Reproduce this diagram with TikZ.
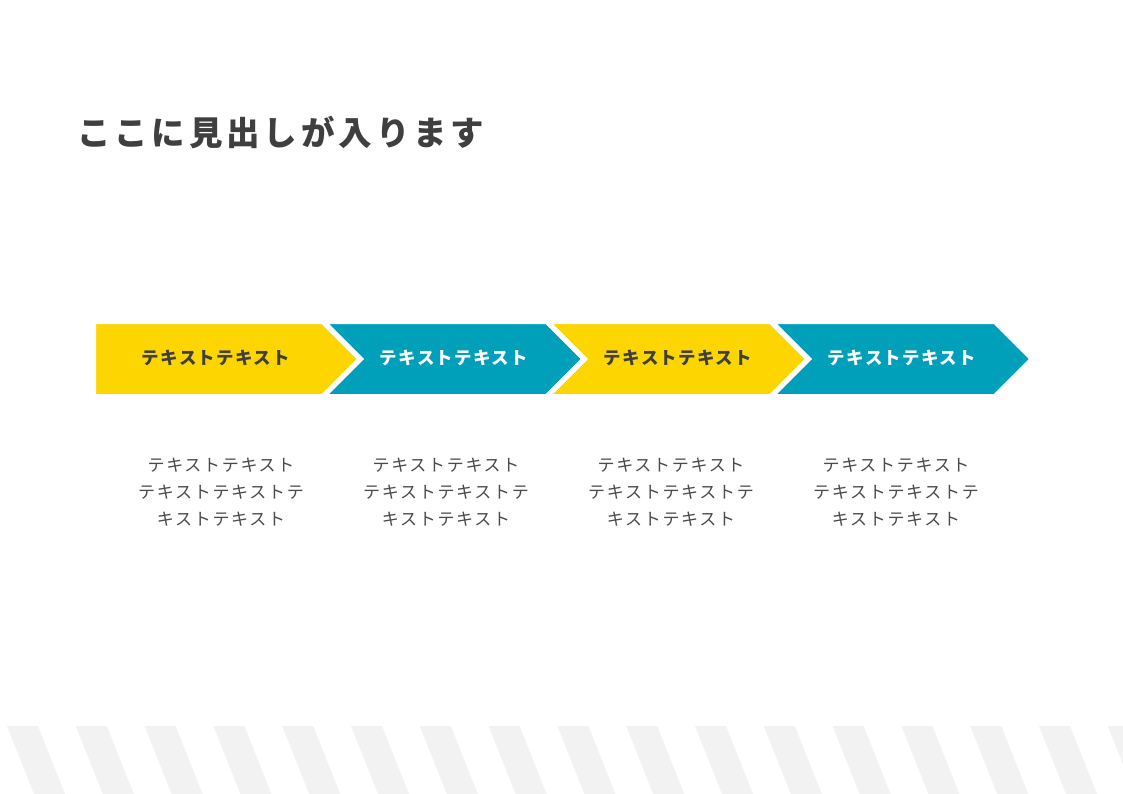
\documentclass[tikz,border=0pt]{standalone}
\usepackage{fontspec}
\usepackage{tikz}
\usetikzlibrary{ % tikz packages
    positioning
}
\newfontfamily\jpfont{Noto Sans CJK JP}
\definecolor{chevyellow}{HTML}{FDD500}
\definecolor{chevblue}{HTML}{00A0BA}
\definecolor{stripegray}{HTML}{F2F2F2}
\definecolor{titlegray}{HTML}{3F3F3F}
\definecolor{descgray}{HTML}{4A4A4A}
\tikzset{chevron/.style={
    draw=white,
    line width=5pt,
    line join=miter
}}
\tikzset{chevlabel/.style={
    inner sep=0pt,
    font=\jpfont\bfseries\fontsize{17.5}{20}\selectfont\addfontfeatures{LetterSpace=7.5}
}}
\tikzset{desc/.style={
    inner sep=0pt,
    align=center,
    text=descgray,
    font=\jpfont\fontsize{17}{27}\selectfont\addfontfeatures{LetterSpace=10}
}}

\begin{document}
\begin{tikzpicture}[x=1pt,y=-1pt]
            \useasboundingbox[fill=white] (0,0) rectangle (1123,794);
            % stripes at the bottom
            \foreach \i in {0,...,16}
                \fill[stripegray] (7+68.8*\i,726) -- ++(31,0) -- ++(27,68) -- ++(-31,0) -- cycle;

            \node[anchor=west, inner sep=0pt, text=titlegray,
                font=\jpfont\bfseries\fontsize{33.5}{40}\selectfont\addfontfeatures{LetterSpace=11.5}]
                (title) at (77,133) {ここに見出しが入ります};

            % chevrons
            \path[chevron, fill=chevyellow] (93.5,321.5) -- (323,321.5) -- (360.5,359)
                -- (323,396.5) -- (93.5,396.5) -- cycle;
            \foreach \k/\col in {1/chevblue,2/chevyellow,3/chevblue}
                \path[chevron, fill=\col] (323+224*\k-224,321.5) -- (323+224*\k,321.5)
                    -- (360.5+224*\k,359) -- (323+224*\k,396.5)
                    -- (323+224*\k-224,396.5) -- (360.5+224*\k-224,359) -- cycle;

            \node[chevlabel, text=titlegray] (lab1) at (216,358) {テキストテキスト};
            \node[chevlabel, text=white] (lab2) at (454,358) {テキストテキスト};
            \node[chevlabel, text=titlegray] (lab3) at (678,358) {テキストテキスト};
            \node[chevlabel, text=white] (lab4) at (902,358) {テキストテキスト};

            \foreach \k in {0,...,3}
                \node[desc] (desc\k) at (221+225*\k,492)
                    {テキストテキスト\\テキストテキストテ\\キストテキスト};
        \end{tikzpicture}
\end{document}
